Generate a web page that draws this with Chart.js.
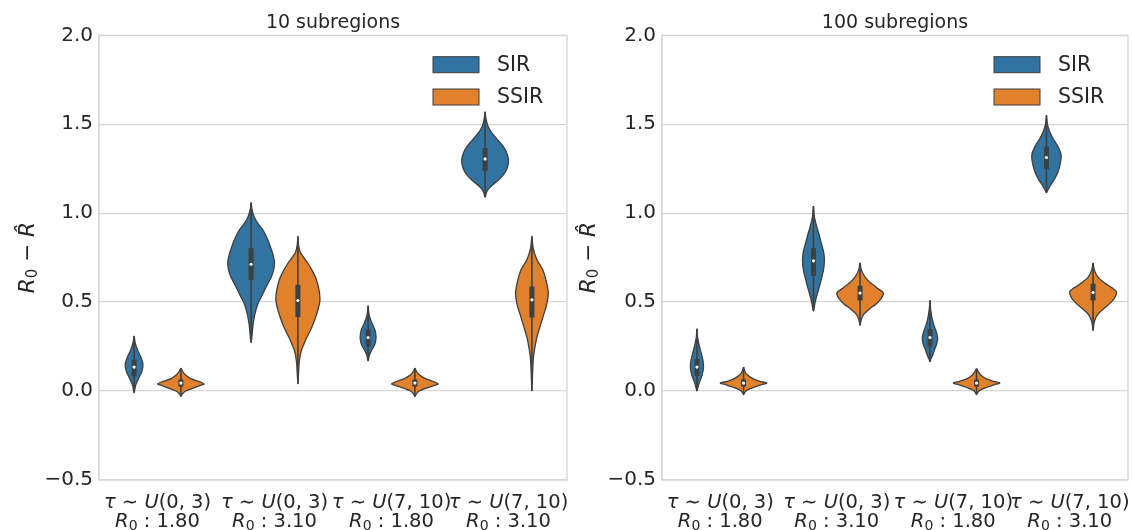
<!DOCTYPE html>
<html>
<head>
<meta charset="utf-8">
<script src="https://cdn.jsdelivr.net/npm/chart.js@4.4.1/dist/chart.umd.min.js"></script>
<style>
  html, body { margin: 0; padding: 0; background: #fff; }
  #wrap { position: relative; width: 1132px; height: 530px; overflow: hidden; }
  canvas { position: absolute; top: 0; }
</style>
</head>
<body>
<div id="wrap">
  <canvas id="chart10" width="575" height="530" style="left:0"></canvas>
  <canvas id="chart100" width="569" height="530" style="left:563px"></canvas>
</div>
<script>
// categories and series
const categories = [
  ['τ ∼ U(0, 3)', 'R₀ : 1.80'],
  ['τ ∼ U(0, 3)', 'R₀ : 3.10'],
  ['τ ∼ U(7, 10)', 'R₀ : 1.80'],
  ['τ ∼ U(7, 10)', 'R₀ : 3.10']
];
const seriesNames = ['SIR', 'SSIR'];
const seriesColors = ['#3274a1', '#e1812c'];
const yTicks = [-0.5, 0, 0.5, 1, 1.5, 2];
const yTitle = 'R₀ − R\u0302';

// violin outlines, one per category: [R0 - R̂ value, relative half width (1 = full)]
// 10 subregions
const sir10 = [
  [[0.31,0],[0.27,0.05],[0.23,0.15],[0.19,0.29],[0.15,0.38],[0.11,0.33],[0.07,0.19],[0.03,0.06],[-0.01,0]],
  [[1.06,0],[1.02,0.04],[0.98,0.13],[0.94,0.3],[0.906,0.5],[0.86,0.68],[0.81,0.83],[0.76,0.95],[0.72,1.0],[0.68,0.96],[0.64,0.86],[0.60,0.7],[0.569,0.58],[0.53,0.44],[0.494,0.3],[0.456,0.21],[0.419,0.14],[0.38,0.09],[0.344,0.06],[0.30,0.03],[0.273,0]],
  [[0.48,0],[0.45,0.02],[0.42,0.06],[0.38,0.17],[0.34,0.3],[0.30,0.34],[0.26,0.28],[0.23,0.15],[0.20,0.05],[0.17,0]],
  [[1.57,0],[1.53,0.04],[1.49,0.12],[1.46,0.24],[1.43,0.42],[1.40,0.62],[1.37,0.8],[1.34,0.92],[1.30,1.0],[1.26,0.96],[1.23,0.86],[1.20,0.68],[1.17,0.42],[1.14,0.17],[1.12,0.07],[1.09,0]]
];
const ssir10 = [
  [[0.13,0],[0.11,0.08],[0.09,0.2],[0.07,0.42],[0.05,0.85],[0.04,1.0],[0.03,0.8],[0.015,0.5],[0.0,0.2],[-0.02,0.04],[-0.03,0]],
  [[0.87,0],[0.82,0.03],[0.78,0.1],[0.75,0.25],[0.72,0.42],[0.68,0.6],[0.63,0.78],[0.57,0.9],[0.51,0.94],[0.44,0.82],[0.36,0.6],[0.29,0.34],[0.22,0.13],[0.15,0.05],[0.04,0]],
  [[0.13,0],[0.11,0.07],[0.09,0.2],[0.07,0.45],[0.05,0.85],[0.04,1.0],[0.03,0.8],[0.015,0.45],[0.0,0.18],[-0.02,0.04],[-0.03,0]],
  [[0.87,0],[0.80,0.06],[0.74,0.21],[0.68,0.47],[0.62,0.61],[0.55,0.7],[0.48,0.62],[0.42,0.48],[0.36,0.34],[0.30,0.21],[0.24,0.12],[0.18,0.06],[0.10,0.03],[0.0,0]]
];
// 100 subregions
const sir100 = [
  [[0.35,0],[0.30,0.03],[0.25,0.11],[0.21,0.19],[0.17,0.26],[0.13,0.28],[0.09,0.22],[0.05,0.11],[0.02,0.04],[0.0,0]],
  [[1.04,0],[0.98,0.04],[0.93,0.13],[0.88,0.24],[0.83,0.34],[0.78,0.44],[0.73,0.47],[0.68,0.43],[0.63,0.34],[0.58,0.24],[0.53,0.13],[0.49,0.06],[0.45,0]],
  [[0.51,0],[0.46,0.03],[0.41,0.09],[0.37,0.17],[0.33,0.28],[0.30,0.33],[0.27,0.3],[0.23,0.19],[0.20,0.11],[0.18,0.04],[0.165,0]],
  [[1.55,0],[1.50,0.04],[1.46,0.13],[1.42,0.28],[1.38,0.47],[1.34,0.61],[1.31,0.63],[1.27,0.58],[1.23,0.49],[1.19,0.34],[1.16,0.19],[1.13,0.06],[1.115,0]]
];
const ssir100 = [
  [[0.135,0],[0.11,0.06],[0.09,0.17],[0.07,0.4],[0.055,0.7],[0.045,1.0],[0.035,0.75],[0.02,0.42],[0.005,0.15],[-0.01,0.04],[-0.02,0]],
  [[0.72,0],[0.68,0.06],[0.64,0.22],[0.61,0.43],[0.58,0.73],[0.55,1.0],[0.52,0.9],[0.49,0.69],[0.46,0.39],[0.43,0.15],[0.40,0.05],[0.37,0]],
  [[0.127,0],[0.11,0.07],[0.09,0.18],[0.07,0.4],[0.055,0.72],[0.045,1.0],[0.035,0.75],[0.02,0.42],[0.005,0.15],[-0.01,0.04],[-0.02,0]],
  [[0.72,0],[0.68,0.06],[0.64,0.21],[0.61,0.47],[0.58,0.82],[0.56,1.0],[0.53,0.95],[0.50,0.78],[0.47,0.52],[0.44,0.26],[0.41,0.11],[0.38,0.04],[0.34,0]]
];

// inner boxes: [whisker low, q1, median, q3, whisker high]
const sir10Box = [[-0.01,0.082,0.135,0.176,0.31],[0.273,0.625,0.713,0.803,1.06],[0.17,0.25,0.301,0.348,0.48],[1.09,1.239,1.305,1.365,1.57]];
const ssir10Box = [[-0.03,0.025,0.045,0.065,0.13],[0.04,0.416,0.509,0.597,0.87],[-0.03,0.025,0.045,0.065,0.13],[0.0,0.414,0.513,0.588,0.87]];
const sir100Box = [[0.0,0.086,0.135,0.18,0.35],[0.45,0.648,0.732,0.803,1.04],[0.165,0.251,0.301,0.348,0.51],[1.115,1.247,1.313,1.375,1.55]];
const ssir100Box = [[-0.02,0.025,0.045,0.065,0.135],[0.37,0.509,0.551,0.592,0.72],[-0.02,0.025,0.045,0.065,0.127],[0.34,0.509,0.554,0.603,0.72]];

const ink = '#262626';
const edge = '#3f3f3f';
const frame = '#d6d6d6';
const family = '"DejaVu Sans", sans-serif';

// split a label into math-like runs: italic letters, upright digits, small subscript
function toRuns(str) {
  const runs = [];
  for (const ch of str) {
    let kind = 'rm', t = ch;
    if ('τUR'.includes(ch)) kind = 'it';
    else if (ch === '\u0302') { runs[runs.length - 1].t += ch; continue; }
    else if (ch === '₀') { kind = 'sub'; t = '0'; }
    const last = runs[runs.length - 1];
    if (last && last.kind === kind) last.t += t;
    else runs.push({kind: kind, t: t});
  }
  return runs;
}

function runFont(kind, size) {
  if (kind === 'it') return 'italic ' + size + 'px ' + family;
  if (kind === 'sub') return Math.round(size * 0.7) + 'px ' + family;
  return size + 'px ' + family;
}

function drawRuns(ctx, str, cx, baseline, size) {
  const runs = toRuns(str);
  let w = 0;
  runs.forEach(r => { ctx.font = runFont(r.kind, size); r.w = ctx.measureText(r.t).width; w += r.w; });
  let x = cx - w / 2;
  runs.forEach(r => {
    ctx.font = runFont(r.kind, size);
    ctx.fillText(r.t, x, r.kind === 'sub' ? baseline + size * 0.16 : baseline);
    x += r.w;
  });
}

// right and top spines
const framePlugin = {
  id: 'frame',
  beforeDatasetsDraw(chart) {
    const {ctx, chartArea: a} = chart;
    ctx.save();
    ctx.strokeStyle = frame;
    ctx.lineWidth = 1.3;
    ctx.strokeRect(a.left, a.top, a.right - a.left, a.bottom - a.top);
    ctx.restore();
  }
};

// seaborn style legend box in the upper right
const legendPlugin = {
  id: 'violinLegend',
  afterDraw(chart) {
    const {ctx, chartArea: a} = chart;
    ctx.save();
    seriesNames.forEach((name, i) => {
      const x = a.right - 134, y = a.top + 21.4 + i * 32.3;
      ctx.fillStyle = seriesColors[i];
      ctx.fillRect(x, y, 46, 16);
      ctx.strokeStyle = edge;
      ctx.lineWidth = 1;
      ctx.strokeRect(x, y, 46, 16);
      ctx.fillStyle = ink;
      ctx.font = '20.5px ' + family;
      ctx.textBaseline = 'middle';
      ctx.fillText(name, x + 64, y + 8.5);
    });
    ctx.restore();
  }
};

// category labels and y title with italic math letters
const mathTextPlugin = {
  id: 'mathText',
  afterDraw(chart, args, opts) {
    const {ctx} = chart;
    const xs = chart.scales.x;
    const a = chart.chartArea;
    ctx.save();
    ctx.fillStyle = ink;
    ctx.textBaseline = 'alphabetic';
    categories.forEach((lines, i) => {
      const cx = xs.getPixelForValue(i);
      drawRuns(ctx, lines[0], cx, a.bottom + 27.5, 19.5);
      drawRuns(ctx, lines[1], cx, a.bottom + 46.5, 19.5);
    });
    ctx.translate(opts.titleX, (a.top + a.bottom) / 2);
    ctx.rotate(-Math.PI / 2);
    drawRuns(ctx, yTitle, 0, 0, 21.5);
    ctx.restore();
  }
};

function buildDatasets(groups) {
  const datasets = [];
  groups.forEach(([profs, boxes], s) => {
    const off = s === 0 ? -0.2 : 0.2;
    profs.forEach((prof, c) => {
      const xc = c + off;
      const right = prof.map(p => ({x: xc + p[1] * 0.2, y: p[0]}));
      const left = prof.slice(0, -1).reverse().map(p => ({x: xc - p[1] * 0.2, y: p[0]}));
      datasets.push({
        label: seriesNames[s], data: right.concat(left), showLine: true, fill: 'shape',
        backgroundColor: seriesColors[s], borderColor: edge, borderWidth: 1.3,
        borderJoinStyle: 'round', pointRadius: 0, tension: 0.25, order: 3
      });
      const b = boxes[c];
      datasets.push({
        data: [{x: xc, y: b[0]}, {x: xc, y: b[4]}], showLine: true,
        borderColor: edge, borderWidth: 1.6, pointRadius: 0, order: 2
      });
      datasets.push({
        data: [{x: xc, y: b[1]}, {x: xc, y: b[3]}], showLine: true,
        borderColor: edge, borderWidth: 5, borderCapStyle: 'butt', pointRadius: 0, order: 1
      });
      datasets.push({
        data: [{x: xc, y: b[2]}], pointRadius: 1.6, pointBackgroundColor: '#ffffff',
        pointBorderWidth: 0, order: 0
      });
    });
  });
  return datasets;
}

function makeChart(id, title, groups, padRight, titleX) {
  return new Chart(document.getElementById(id).getContext('2d'), {
    type: 'scatter',
    data: {datasets: buildDatasets(groups)},
    options: {
      responsive: false,
      animation: false,
      events: [],
      indexAxis: 'y',
      layout: {padding: {left: 0, right: padRight, top: 0, bottom: 0}},
      plugins: {
        legend: {display: false},
        tooltip: {enabled: false},
        title: {
          display: true, text: title, fullSize: false, color: ink,
          font: {family: family, size: 19, weight: 'normal'},
          padding: {top: 11.5, bottom: 1}
        },
        mathText: {titleX: titleX}
      },
      scales: {
        x: {
          type: 'linear', min: -0.5, max: 3.5,
          afterBuildTicks: scale => { scale.ticks = categories.map((c, i) => ({value: i})); },
          afterFit: scale => { scale.height = 50; },
          grid: {display: false, drawTicks: false},
          border: {color: frame, width: 1.3},
          ticks: {display: false}
        },
        y: {
          type: 'linear', min: -0.5, max: 2,
          afterBuildTicks: scale => { scale.ticks = yTicks.map(v => ({value: v})); },
          afterFit: scale => { scale.width = 99; },
          grid: {color: frame, lineWidth: 1.3, drawTicks: false},
          border: {color: frame, width: 1.3},
          ticks: {
            callback: v => (v < 0 ? '\u2212' : '') + Math.abs(v).toFixed(1),
            color: ink, font: {family: family, size: 20}, padding: 6
          }
        }
      }
    },
    plugins: [framePlugin, legendPlugin, mathTextPlugin]
  });
}

makeChart('chart10', '10 subregions', [[sir10, sir10Box], [ssir10, ssir10Box]], 8, 33.5);
makeChart('chart100', '100 subregions', [[sir100, sir100Box], [ssir100, ssir100Box]], 2, 32);
</script>
</body>
</html>
